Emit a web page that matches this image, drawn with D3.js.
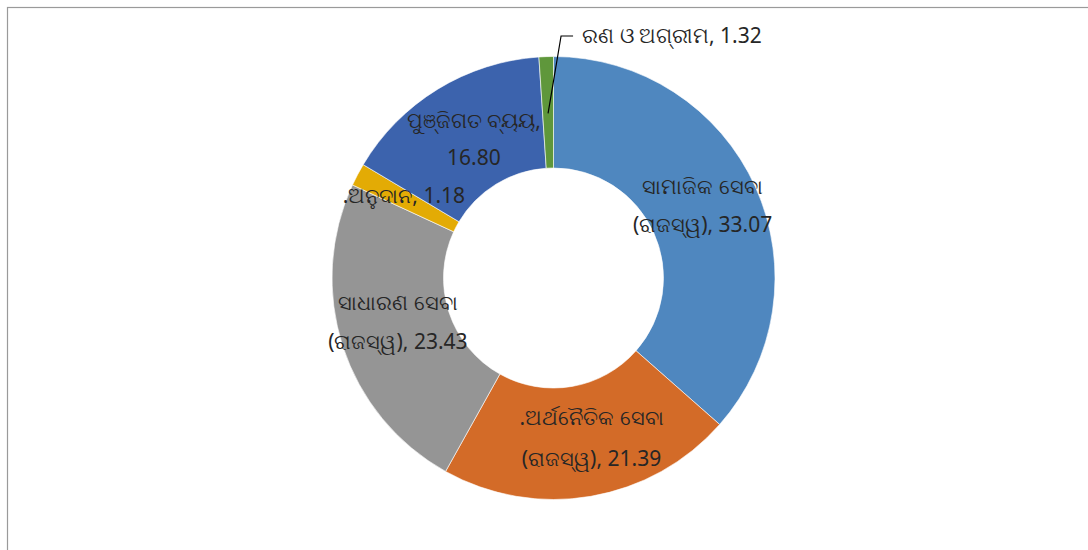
<!DOCTYPE html>
<html>
<head>
<meta charset="utf-8">
<script src="https://cdn.jsdelivr.net/npm/d3@7"></script>
<style>
  html, body { margin: 0; padding: 0; background: #fff; }
  svg { display: block; }
  text { font-family: "Noto Sans", "Open Sans", sans-serif; fill: #262626; }
</style>
</head>
<body>
<svg id="canvas" width="1088" height="550"></svg>
<script>
// 分類名 (Odia)
var names = ['ସାମାଜିକ ସେବା (ରାଜସ୍ୱ)', '.ଅର୍ଥନୈତିକ ସେବା (ରାଜସ୍ୱ)', 'ସାଧାରଣ ସେବା (ରାଜସ୍ୱ)', '.ଅନୁଦାନ', 'ପୁଞ୍ଜିଗତ ବ୍ୟୟ', 'ରଣ ଓ ଅଗ୍ରୀମ'];
// ラベルの値
var values = [33.07, 21.39, 23.43, 1.18, 16.80, 1.32];
var shares = [36.5, 21.6, 23.8, 1.65, 15.4, 1.05];
var colors = ['#4f87bf', '#d36b28', '#959595', '#e3ab05', '#3c63ad', '#5f973b'];

var svg = d3.select('#canvas');

// 枠
svg.append('rect')
  .attr('x', 7.5).attr('y', 7.5)
  .attr('width', 1100).attr('height', 560)
  .style('fill', 'none')
  .style('stroke', '#9a9a9a')
  .style('stroke-width', 1.2);

var cx = 553.5, cy = 278, rOut = 221.5, rIn = 110;

var pie = d3.pie().sort(null).value(function(d){ return d.share; });
var rows = names.map(function(n, i){
  return { name: n, value: values[i], share: shares[i], color: colors[i] };
});
var arcs = pie(rows);

var arc = d3.arc().innerRadius(rIn).outerRadius(rOut);

var g = svg.append('g').attr('transform', 'translate(' + cx + ',' + cy + ')');

g.selectAll('path.slice')
  .data(arcs)
  .enter().append('path')
  .attr('class', 'slice')
  .attr('d', arc)
  .style('fill', function(d){ return d.data.color; })
  .style('stroke', '#ffffff')
  .style('stroke-width', 0.6);

// ラベル: lines + offsets relative to arc centroid
var fmt = d3.format('.2f');
var labelSetup = [
  { lines: function(d){ return ['ସାମାଜିକ ସେବା', '(ରାଜସ୍ୱ), ' + fmt(d.value)]; }, dx: -2, dy: -4, gap: 38 },
  { lines: function(d){ return ['.ଅର୍ଥନୈତିକ ସେବା', '(ରାଜସ୍ୱ), ' + fmt(d.value)]; }, dx: 10, dy: -3, gap: 41 },
  { lines: function(d){ return ['ସାଧାରଣ ସେବା', '(ରାଜସ୍ୱ), ' + fmt(d.value)]; }, dx: 2, dy: -7, gap: 39 },
  { lines: function(d){ return ['.ଅନୁଦାନ, ' + fmt(d.value)]; }, dx: -3, dy: -5, gap: 38 },
  { lines: function(d){ return ['ପୁଞ୍ଜିଗତ ବ୍ୟୟ,', fmt(d.value)]; }, dx: 7, dy: 2, gap: 37 },
  null
];

arcs.forEach(function(a, i){
  var setup = labelSetup[i];
  if(!setup) return;
  var c = arc.centroid(a);
  var lines = setup.lines(a.data);
  var x0 = c[0] + setup.dx;
  var y0 = c[1] + setup.dy - (lines.length - 1) * setup.gap / 2;
  var t = g.append('text')
    .attr('text-anchor', 'middle')
    .style('font-size', '21px');
  lines.forEach(function(s, k){
    t.append('tspan')
      .attr('x', x0)
      .attr('y', y0 + k * setup.gap)
      .attr('dy', '0.35em')
      .text(s);
  });
});

// 小さいスライス: leader line + label outside
var small = arcs[5];
var mid = (small.startAngle + small.endAngle) / 2;
var rr = (rIn + rOut) / 2 - 1;
var p0 = [Math.sin(mid) * rr, -Math.cos(mid) * rr];
var p1 = [p0[0] + 13, 36 - cy];
var p2 = [p1[0] + 12, p1[1]];
g.append('polyline')
  .attr('points', [p0, p1, p2].map(function(p){ return p.join(','); }).join(' '))
  .style('fill', 'none')
  .style('stroke', '#000')
  .style('stroke-width', 1.2);
g.append('text')
  .attr('x', p2[0] + 9)
  .attr('y', p2[1])
  .attr('dy', '0.35em')
  .style('font-size', '21px')
  .text(small.data.name + ', ' + fmt(small.data.value));
</script>
</body>
</html>
